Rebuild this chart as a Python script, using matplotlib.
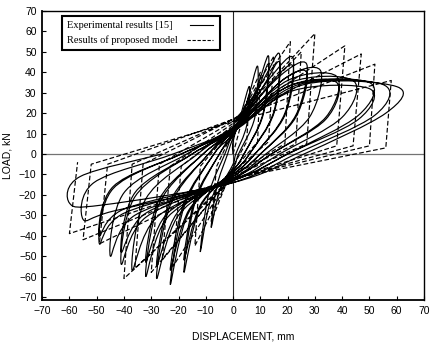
import numpy as np
import matplotlib
matplotlib.use("Agg")
import matplotlib.pyplot as plt
from matplotlib.path import Path
from matplotlib.patches import PathPatch, Rectangle
from matplotlib.lines import Line2D

# Experimental loops [15]: key points of each cycle (mm, kN)
# positive half: pinch at d=0 -> onset of stiffening -> reversal -> unloading knee -> residual
exp_pin_p = [6, 8, 10, 9, 11, 10, 12, 11, 13, 11, 12, 13, 11, 12, 13, 11, 12, 12]
exp_dm_p = [3, 5, 8, 8, 11, 11, 14, 14, 17, 17, 19, 20, 20, 21, 22, 22, 24, 26]
exp_Pm_p = [20, 25, 30, 28, 36, 33, 38, 35, 38, 35, 37, 36, 33, 35, 34, 31, 34, 34]
exp_dr_p = [6, 9, 13, 13, 17, 17, 22, 22, 27, 27, 32, 38, 38, 44, 50, 50, 55, 60]
exp_Pr_p = [33, 43, 48, 44, 49, 45, 47, 43, 44, 40, 41, 38, 35, 36, 35, 32, 34, 33]
exp_ukd_p = [5, 8, 11, 11, 15, 15, 19, 19, 23, 23, 28, 34, 34, 40, 46, 46, 52, 56]
exp_ukP_p = [14, 18, 20, 19, 21, 20, 20, 19, 19, 18, 18, 18, 17, 18, 19, 17, 19, 20]
exp_res_p = [1, 2, 4, 4, 6, 6, 8, 8, 10, 10, 12, 14, 14, 17, 20, 20, 23, 26]
# negative half
exp_pin_n = [-5, -7, -8, -8, -9, -9, -10, -10, -11, -11, -12, -12, -12, -13, -13, -13, -14, -14]
exp_dm_n = [-5, -8, -12, -12, -16, -16, -20, -20, -24, -24, -28, -32, -32, -36, -40, -40, -44, -48]
exp_Pm_n = [-18, -22, -26, -25, -28, -27, -30, -28, -31, -29, -31, -31, -29, -30, -29, -27, -28, -25]
exp_dr_n = [-8, -12, -18, -18, -23, -23, -28, -28, -32, -32, -37, -41, -41, -45, -49, -49, -55, -60]
exp_Pr_n = [-36, -48, -58, -52, -64, -57, -61, -55, -60, -53, -57, -54, -48, -50, -44, -40, -32, -24]
exp_ukd_n = [-6, -9, -14, -14, -18, -18, -23, -23, -27, -27, -32, -36, -36, -40, -44, -44, -51, -56]
exp_ukP_n = [-16, -20, -24, -22, -26, -24, -25, -23, -24, -22, -22, -21, -19, -19, -17, -16, -14, -11]
exp_res_n = [-2, -3, -5, -5, -7, -7, -9, -9, -11, -11, -13, -15, -15, -17, -19, -19, -22, -26]

# Proposed model (multi-linear): pinch -> peak -> end of unloading, both directions
mod_pin_p = [0, 11, 13, 14, 15, 16, 17, 17, 17, 16]
mod_dp = [6, 10, 15, 21, 25, 30, 41, 47, 52, 58]
mod_Pp = [30, 40, 48, 55, 50, 59, 53, 49, 44, 36]
mod_udp = [5, 9, 13, 19, 23, 27, 38, 44, 50, 56]
mod_uPp = [6, 6, 6, 5, 5, 5, 4, 4, 4, 3]
mod_pin_n = [-6, -8, -9, -10, -10, -11, -12, -12, -12, -12]
mod_dn = [-8, -14, -22, -26, -30, -36, -40, -49, -55, -60]
mod_Pn = [-33, -45, -55, -52, -58, -56, -61, -44, -42, -39]
mod_udn = [-6, -12, -19, -23, -27, -33, -37, -46, -52, -57]
mod_uPn = [-6, -6, -6, -6, -5, -5, -5, -5, -5, -4]

ticks = list(range(-70, 71, 10))
labels = ['Experimental results [15]', 'Results of proposed model']


def smooth_path(xs, ys):
    # Catmull-Rom through the key points, drawn as cubic Bezier segments
    pts = [np.array([xs[0], ys[0]], float)]
    for x, y in zip(xs[1:], ys[1:]):
        p = np.array([x, y], float)
        if not np.allclose(p, pts[-1]):
            pts.append(p)
    verts = [pts[0]]
    codes = [Path.MOVETO]
    for i in range(len(pts) - 1):
        p0 = pts[i - 1] if i > 0 else pts[i]
        p1, p2 = pts[i], pts[i + 1]
        p3 = pts[i + 2] if i + 2 < len(pts) else p2
        verts += [p1 + (p2 - p0) / 6, p2 - (p3 - p1) / 6, p2]
        codes += [Path.CURVE4] * 3
    return Path(verts, codes)


# experimental key point sequence
ex, ey = [0], [0]
for i in range(len(exp_dr_p)):
    ex += [0, exp_dm_p[i], exp_dr_p[i], exp_ukd_p[i], exp_res_p[i],
           0, exp_dm_n[i], exp_dr_n[i], exp_ukd_n[i], exp_res_n[i]]
    ey += [exp_pin_p[i], exp_Pm_p[i], exp_Pr_p[i], exp_ukP_p[i], 0,
           exp_pin_n[i], exp_Pm_n[i], exp_Pr_n[i], exp_ukP_n[i], 0]

# model key point sequence
mx, my = [0], [0]
for i in range(len(mod_dp)):
    mx += [0, mod_dp[i], mod_udp[i], 0, mod_dn[i], mod_udn[i]]
    my += [mod_pin_p[i], mod_Pp[i], mod_uPp[i], mod_pin_n[i], mod_Pn[i], mod_uPn[i]]

plt.rcParams['font.family'] = ['Liberation Sans', 'DejaVu Sans']

fig = plt.figure(figsize=(4.3, 3.46), dpi=100)
ax = fig.add_axes([0.098, 0.133, 0.888, 0.835])

ax.axhline(0, color='0.45', lw=0.9, zorder=1)
ax.axvline(0, color='0.15', lw=0.8, zorder=1)

ax.add_patch(PathPatch(smooth_path(ex, ey), facecolor='none',
                       edgecolor='black', lw=0.85, zorder=3))
ax.plot(mx, my, color='black', lw=0.85, dashes=(4, 2), zorder=3)

ax.set_xlim(-70, 70)
ax.set_ylim(-71.5, 70)
ax.set_xticks(ticks)
ax.set_yticks(ticks)
ax.tick_params(direction='in', length=3, width=0.8, labelsize=7.5, pad=4)
for s in ax.spines.values():
    s.set_linewidth(1.0)
ax.spines['left'].set_linewidth(1.3)
ax.spines['bottom'].set_linewidth(1.3)

ax.set_xlabel('DISPLACEMENT, mm', fontsize=7.5)
ax.xaxis.set_label_coords(0.526, -0.11)
ax.set_ylabel('LOAD, kN', fontsize=7.5)
ax.yaxis.set_label_coords(-0.078, 0.5)

# legend box drawn by hand: text left, line sample right
T = fig.transFigure
fig.add_artist(Rectangle((0.144, 0.855), 0.368, 0.099, transform=T,
                         facecolor='white', edgecolor='black', lw=1.5, zorder=5))
serif = {'family': 'Liberation Serif', 'size': 7.5}
fig.text(0.156, 0.927, labels[0], va='center', ha='left', fontdict=serif, zorder=6)
fig.text(0.156, 0.884, labels[1], va='center', ha='left', fontdict=serif, zorder=6)
fig.add_artist(Line2D([0.442, 0.495], [0.927, 0.927], transform=T,
                      color='black', lw=0.8, zorder=6))
fig.add_artist(Line2D([0.435, 0.495], [0.884, 0.884], transform=T,
                      color='black', lw=0.8, dashes=(3, 1.5), zorder=6))

fig.savefig('out.png', dpi=100)
